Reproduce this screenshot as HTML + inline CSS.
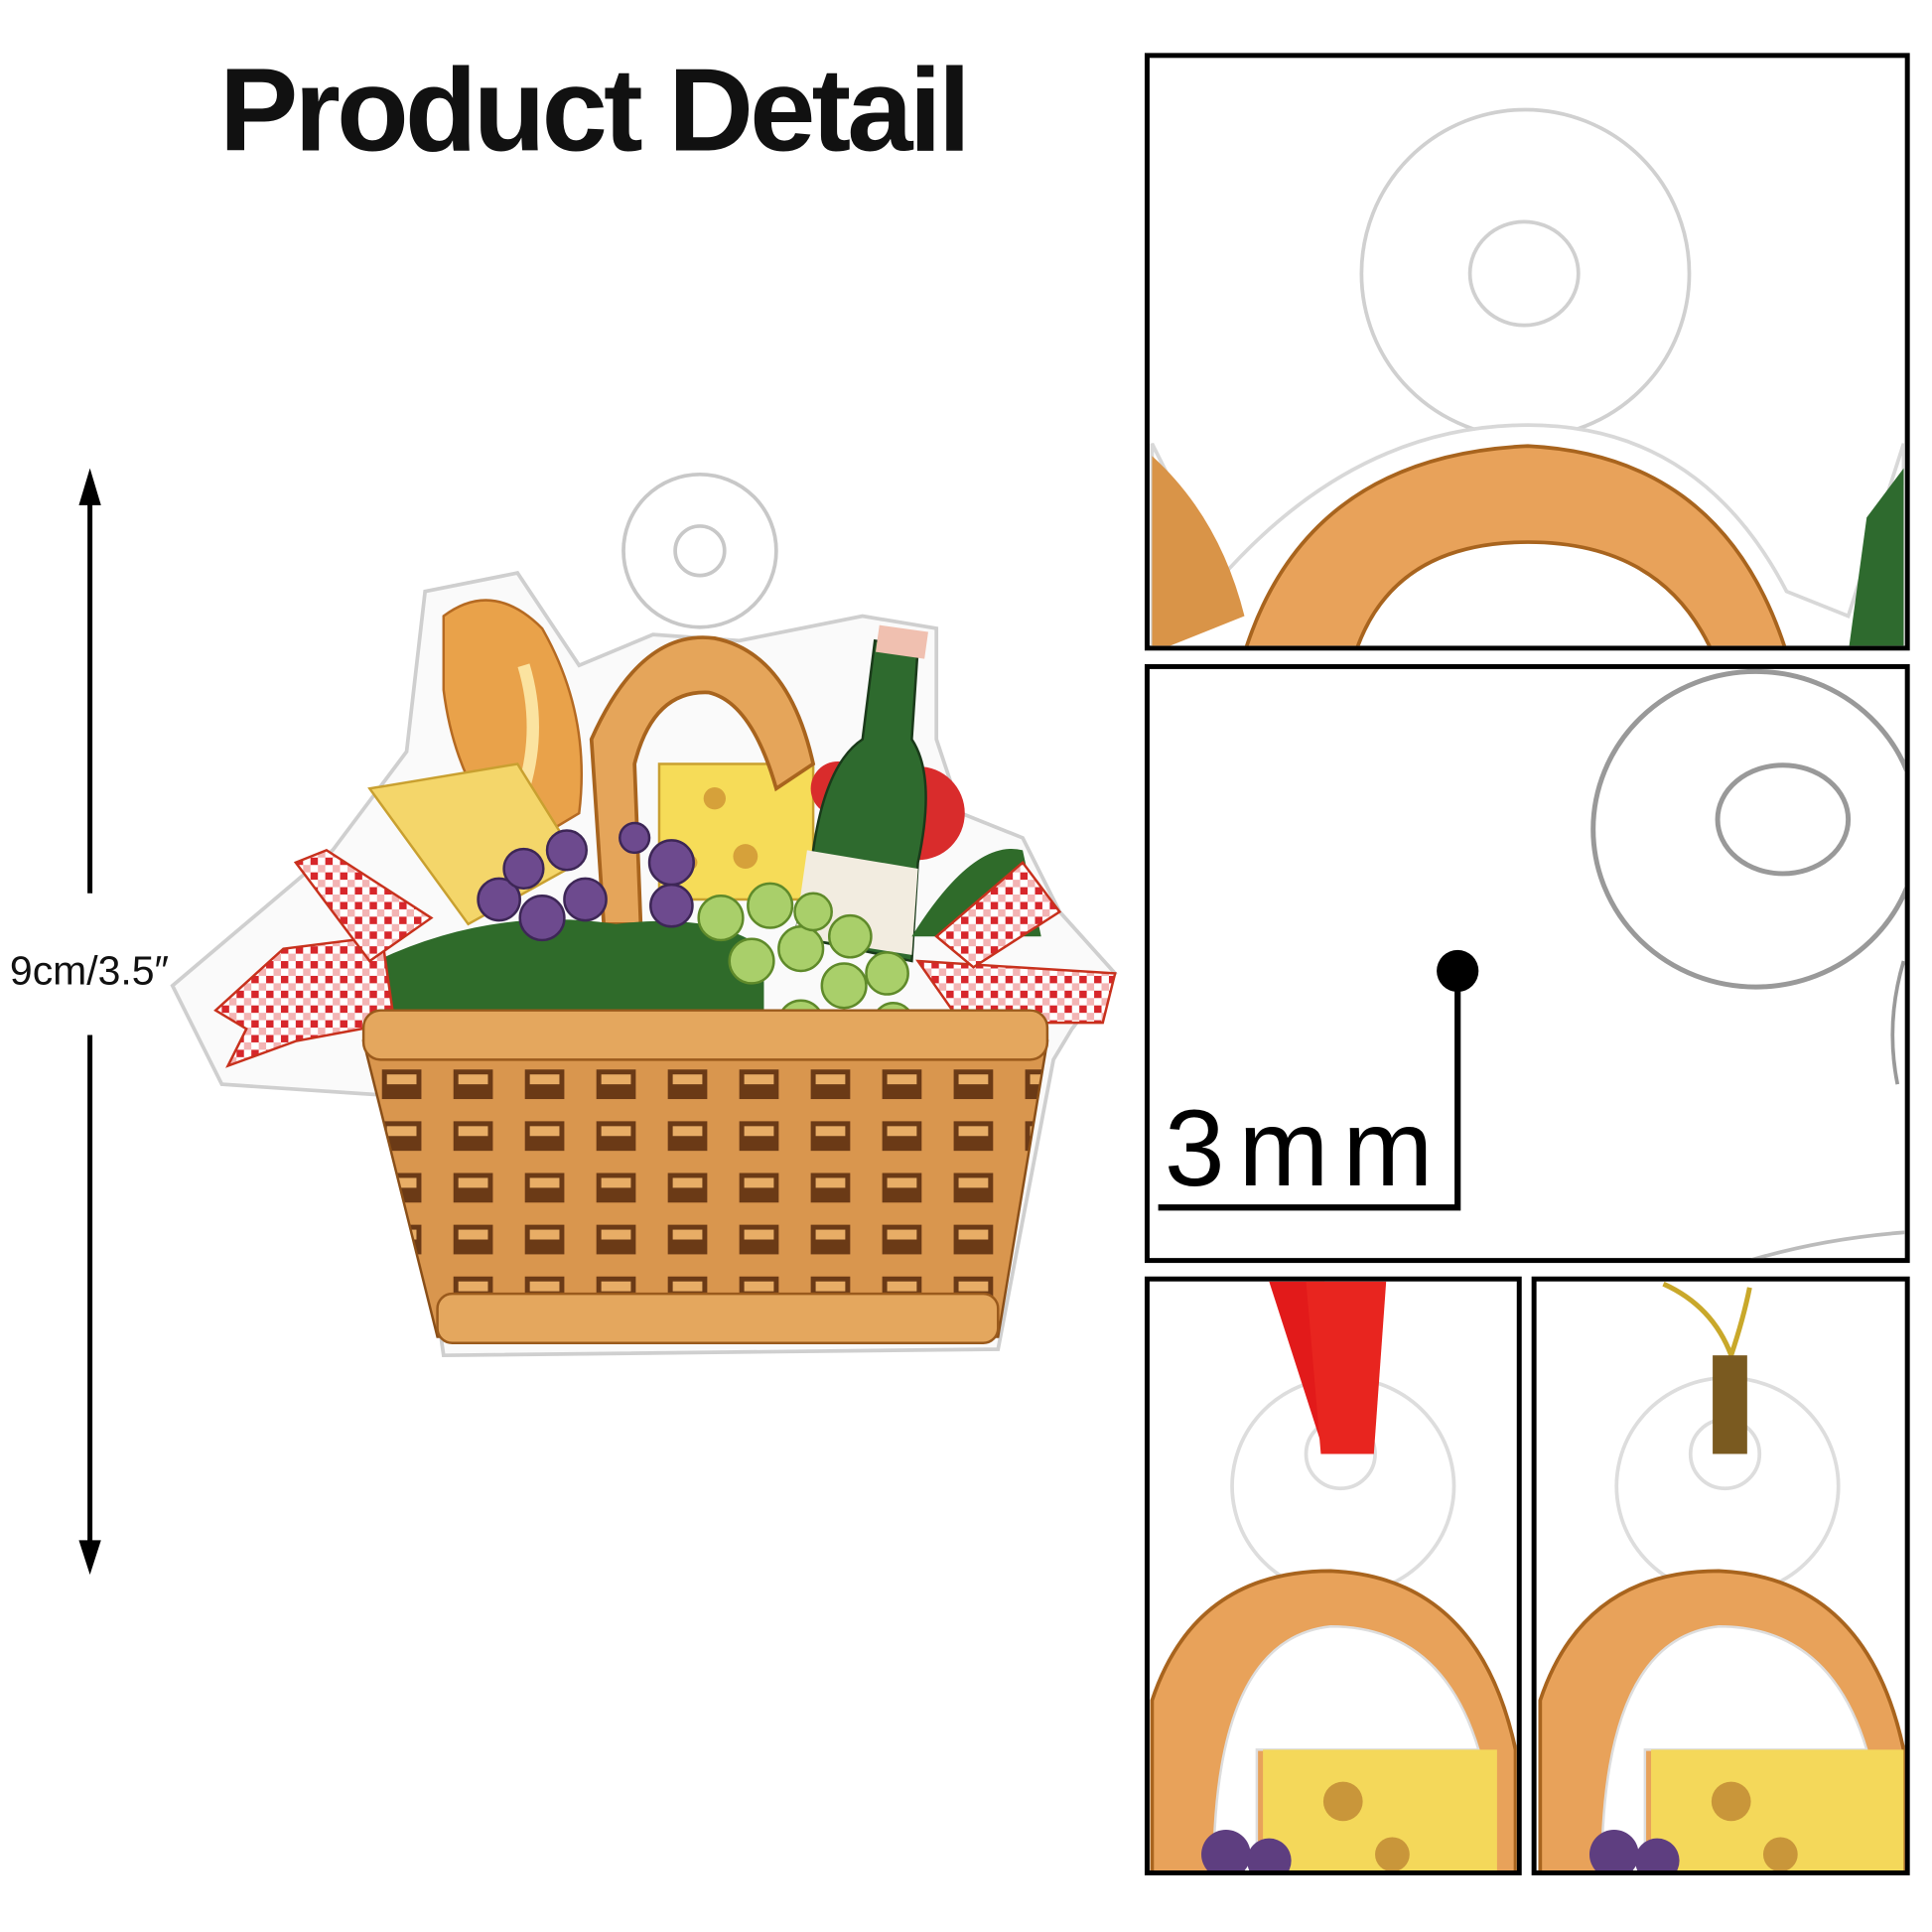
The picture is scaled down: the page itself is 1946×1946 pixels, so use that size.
<!DOCTYPE html>
<html><head><meta charset="utf-8"><style>
html,body{margin:0;padding:0;background:#fff}
svg{display:block}
</style></head><body>
<svg width="1946" height="1946" viewBox="0 0 1568 1568" xmlns="http://www.w3.org/2000/svg">
<defs>
<pattern id="chk" width="12" height="12" patternUnits="userSpaceOnUse">
<rect width="12" height="12" fill="#fff"/><rect width="6" height="6" fill="#d7262b"/><rect x="6" y="6" width="6" height="6" fill="#f3b4b4"/>
</pattern>
<pattern id="weave" width="58" height="42" patternUnits="userSpaceOnUse" x="300" y="860">
<rect width="58" height="42" fill="#d9964e"/><rect x="10" y="8" width="32" height="24" fill="#6b3a16"/><rect x="14" y="12" width="24" height="8" fill="#e8ad66"/>
</pattern>
<clipPath id="p1"><rect x="933" y="47" width="613" height="477"/></clipPath>
<clipPath id="p2"><rect x="933" y="543" width="613" height="478"/></clipPath>
<clipPath id="p3"><rect x="933" y="1040" width="298" height="478"/></clipPath>
<clipPath id="p4"><rect x="1247" y="1040" width="299" height="478"/></clipPath>
</defs>
<text x="178" y="122" font-family="Liberation Sans, sans-serif" font-weight="bold" font-size="96" fill="#111" textLength="610">Product Detail</text>
<line x1="73" y1="395" x2="73" y2="725" stroke="#000" stroke-width="4"/>
<line x1="73" y1="840" x2="73" y2="1265" stroke="#000" stroke-width="4"/>
<polygon points="73,380 64,410 82,410" fill="#000"/>
<polygon points="73,1278 64,1250 82,1250" fill="#000"/>
<text x="8" y="799" font-family="Liberation Sans, sans-serif" font-size="33" fill="#111">9cm/3.5″</text>

<g>
<circle cx="568" cy="447" r="62" fill="#fff" stroke="#c8c8c8" stroke-width="3"/>
<circle cx="568" cy="447" r="20" fill="#fff" stroke="#c8c8c8" stroke-width="3"/>
<path d="M140,800 L270,690 L330,610 L345,480 L420,465 L470,540 L530,515 L600,520 L700,500 L760,510 L760,600 L780,660 L830,680 L860,740 L905,790 L870,835 L855,860 L810,1095 L360,1100 L330,890 L180,880 Z" fill="#fafafa" stroke="#cfcfcf" stroke-width="3"/>
<path d="M360,500 Q400,470 440,510 Q480,580 470,660 L420,690 Q370,640 360,560 Z" fill="#e9a24a" stroke="#b56a22" stroke-width="2"/>
<path d="M425,540 Q440,590 425,640" stroke="#fbe3a0" stroke-width="10" fill="none"/>
<polygon points="300,640 420,620 470,700 380,750" fill="#f4d66a" stroke="#c9a030" stroke-width="2"/>
<rect x="535" y="620" width="125" height="110" fill="#f6dc58" stroke="#c9a030" stroke-width="2"/>
<circle cx="580" cy="648" r="9" fill="#d6a13a"/><circle cx="605" cy="695" r="10" fill="#d6a13a"/><circle cx="560" cy="700" r="6" fill="#d6a13a"/>
<path d="M490,750 L480,600 Q520,510 580,518 Q640,530 660,620 L630,640 Q610,570 575,562 Q530,560 515,620 L520,750 Z" fill="#e5a55a" stroke="#a8641e" stroke-width="3"/>
<circle cx="745" cy="660" r="38" fill="#d92c2c"/><circle cx="680" cy="640" r="22" fill="#d92c2c"/>
<path d="M710,520 L745,525 L740,600 Q760,630 745,700 L740,780 L645,760 L660,690 Q670,620 700,600 Z" fill="#2e6a2e" stroke="#1a3a1a" stroke-width="2"/>
<polygon points="655,690 745,705 740,775 645,760" fill="#f2ece0"/>
<rect x="712" y="510" width="40" height="22" fill="#f0c0b0" transform="rotate(8 732 521)"/>
<path d="M305,780 Q400,735 500,750 Q580,740 620,770 L620,820 L300,830 Z" fill="#2f6b2a"/>
<path d="M740,760 Q790,680 830,690 L845,760 Z" fill="#2f6b2a"/>
<g fill="#6d4a8e" stroke="#3d2656" stroke-width="2">
<circle cx="405" cy="730" r="17"/><circle cx="440" cy="745" r="18"/><circle cx="425" cy="705" r="16"/><circle cx="460" cy="690" r="16"/><circle cx="475" cy="730" r="17"/><circle cx="545" cy="700" r="18"/><circle cx="545" cy="735" r="17"/><circle cx="515" cy="680" r="12"/>
</g>
<g fill="#a9cf6a" stroke="#5f8a2a" stroke-width="2">
<circle cx="585" cy="745" r="18"/><circle cx="625" cy="735" r="18"/><circle cx="610" cy="780" r="18"/><circle cx="650" cy="770" r="18"/><circle cx="690" cy="760" r="17"/><circle cx="660" cy="740" r="15"/><circle cx="685" cy="800" r="18"/><circle cx="720" cy="790" r="17"/><circle cx="650" cy="830" r="18"/><circle cx="690" cy="840" r="18"/><circle cx="725" cy="830" r="16"/><circle cx="665" cy="875" r="17"/><circle cx="705" cy="875" r="17"/><circle cx="690" cy="905" r="16"/><circle cx="725" cy="900" r="16"/><circle cx="710" cy="940" r="16"/>
</g>
<polygon points="175,820 230,770 310,760 320,830 240,845 185,865 200,835" fill="url(#chk)" stroke="#c8311d" stroke-width="2"/>
<polygon points="240,700 265,690 350,745 300,780" fill="url(#chk)" stroke="#c8311d" stroke-width="2"/>
<polygon points="745,780 905,790 895,830 780,830" fill="url(#chk)" stroke="#c8311d" stroke-width="2"/>
<polygon points="760,760 830,700 860,740 790,785" fill="url(#chk)" stroke="#c8311d" stroke-width="2"/>
<polygon points="295,845 850,845 810,1085 355,1085" fill="url(#weave)" stroke="#8a4f18" stroke-width="2"/>
<rect x="295" y="820" width="555" height="40" rx="14" fill="#e4a75e" stroke="#9a5a1c" stroke-width="2"/>
<rect x="355" y="1050" width="455" height="40" rx="12" fill="#e4a75e" stroke="#9a5a1c" stroke-width="2"/>
</g>

<g fill="none" stroke="#000" stroke-width="4">
<rect x="931" y="45" width="617" height="481"/>
<rect x="931" y="541" width="617" height="482"/>
<rect x="931" y="1038" width="302" height="482"/>
<rect x="1245" y="1038" width="303" height="482"/>
</g>
<g clip-path="url(#p1)">
<circle cx="1238" cy="222" r="133" fill="#fff" stroke="#d0d0d0" stroke-width="3"/>
<ellipse cx="1237" cy="222" rx="44" ry="42" fill="none" stroke="#d0d0d0" stroke-width="3"/>
<path d="M935,360 L990,470 Q1100,345 1240,345 Q1380,345 1450,480 L1500,500 L1545,360 L1545,530 L935,530 Z" fill="#fff" stroke="#d8d8d8" stroke-width="3"/>
<path d="M935,370 Q990,420 1010,500 L935,530 Z" fill="#d99448"/>
<path d="M1010,530 Q1060,370 1240,362 Q1400,370 1450,530 L1390,530 Q1350,440 1240,440 Q1130,440 1100,530 Z" fill="#e8a25a" stroke="#a8641e" stroke-width="3"/>
<path d="M1515,420 L1545,380 L1545,530 L1500,530 Z" fill="#2e6a2e"/>
</g>
<g clip-path="url(#p2)">
<ellipse cx="1425" cy="673" rx="132" ry="128" fill="none" stroke="#999" stroke-width="4"/>
<ellipse cx="1447" cy="665" rx="53" ry="44" fill="none" stroke="#999" stroke-width="4"/>
<path d="M1420,1023 Q1480,1005 1548,1000" fill="none" stroke="#bbb" stroke-width="3"/>
<path d="M1545,780 Q1530,830 1540,880" fill="none" stroke="#999" stroke-width="3"/>
</g>
<text x="945" y="962" font-family="Liberation Sans, sans-serif" font-size="88" fill="#000" textLength="218">3mm</text>
<polyline points="940,980 1183,980 1183,790" fill="none" stroke="#000" stroke-width="5"/>
<circle cx="1183" cy="788" r="17" fill="#000"/>
<g clip-path="url(#p3)">
<path d="M1050,1285 A90,88 0 1,1 1130,1285" fill="#fff" stroke="#ddd" stroke-width="3"/>
<circle cx="1088" cy="1180" r="28" fill="none" stroke="#ddd" stroke-width="3"/>
<polygon points="1030,1040 1075,1040 1085,1180 1075,1180" fill="#e21a1a"/>
<polygon points="1060,1040 1125,1040 1115,1180 1072,1180" fill="#e8251f"/>
<path d="M935,1520 L935,1380 Q970,1275 1080,1275 Q1200,1280 1230,1420 L1230,1520 Z" fill="#e8a25a" stroke="#a8641e" stroke-width="3"/>
<path d="M985,1520 Q985,1330 1080,1320 Q1170,1320 1200,1420 L1140,1420 L1020,1420 L1020,1520 Z" fill="#fff" stroke="#ddd" stroke-width="2"/>
<polygon points="1025,1420 1215,1420 1215,1520 1025,1520" fill="#f4d85a"/>
<circle cx="1090" cy="1462" r="16" fill="#c9963a"/><circle cx="1130" cy="1505" r="14" fill="#c9963a"/>
<circle cx="995" cy="1505" r="20" fill="#5e3e80"/><circle cx="1030" cy="1510" r="18" fill="#5e3e80"/>
</g>
<g clip-path="url(#p4)">
<path d="M1362,1285 A90,88 0 1,1 1442,1285" fill="#fff" stroke="#ddd" stroke-width="3"/>
<circle cx="1400" cy="1180" r="28" fill="none" stroke="#ddd" stroke-width="3"/>
<path d="M1350,1042 Q1390,1060 1405,1100 Q1415,1070 1420,1045" fill="none" stroke="#c9a82a" stroke-width="4"/>
<rect x="1390" y="1100" width="28" height="80" fill="#7a5a20"/>
<path d="M1250,1520 L1250,1380 Q1285,1275 1395,1275 Q1515,1280 1545,1420 L1545,1520 Z" fill="#e8a25a" stroke="#a8641e" stroke-width="3"/>
<path d="M1300,1520 Q1300,1330 1395,1320 Q1485,1320 1515,1420 L1335,1420 L1335,1520 Z" fill="#fff" stroke="#ddd" stroke-width="2"/>
<polygon points="1340,1420 1545,1420 1545,1520 1340,1520" fill="#f4d85a"/>
<circle cx="1405" cy="1462" r="16" fill="#c9963a"/><circle cx="1445" cy="1505" r="14" fill="#c9963a"/>
<circle cx="1310" cy="1505" r="20" fill="#5e3e80"/><circle cx="1345" cy="1510" r="18" fill="#5e3e80"/>
</g>
</svg>
</body></html>
